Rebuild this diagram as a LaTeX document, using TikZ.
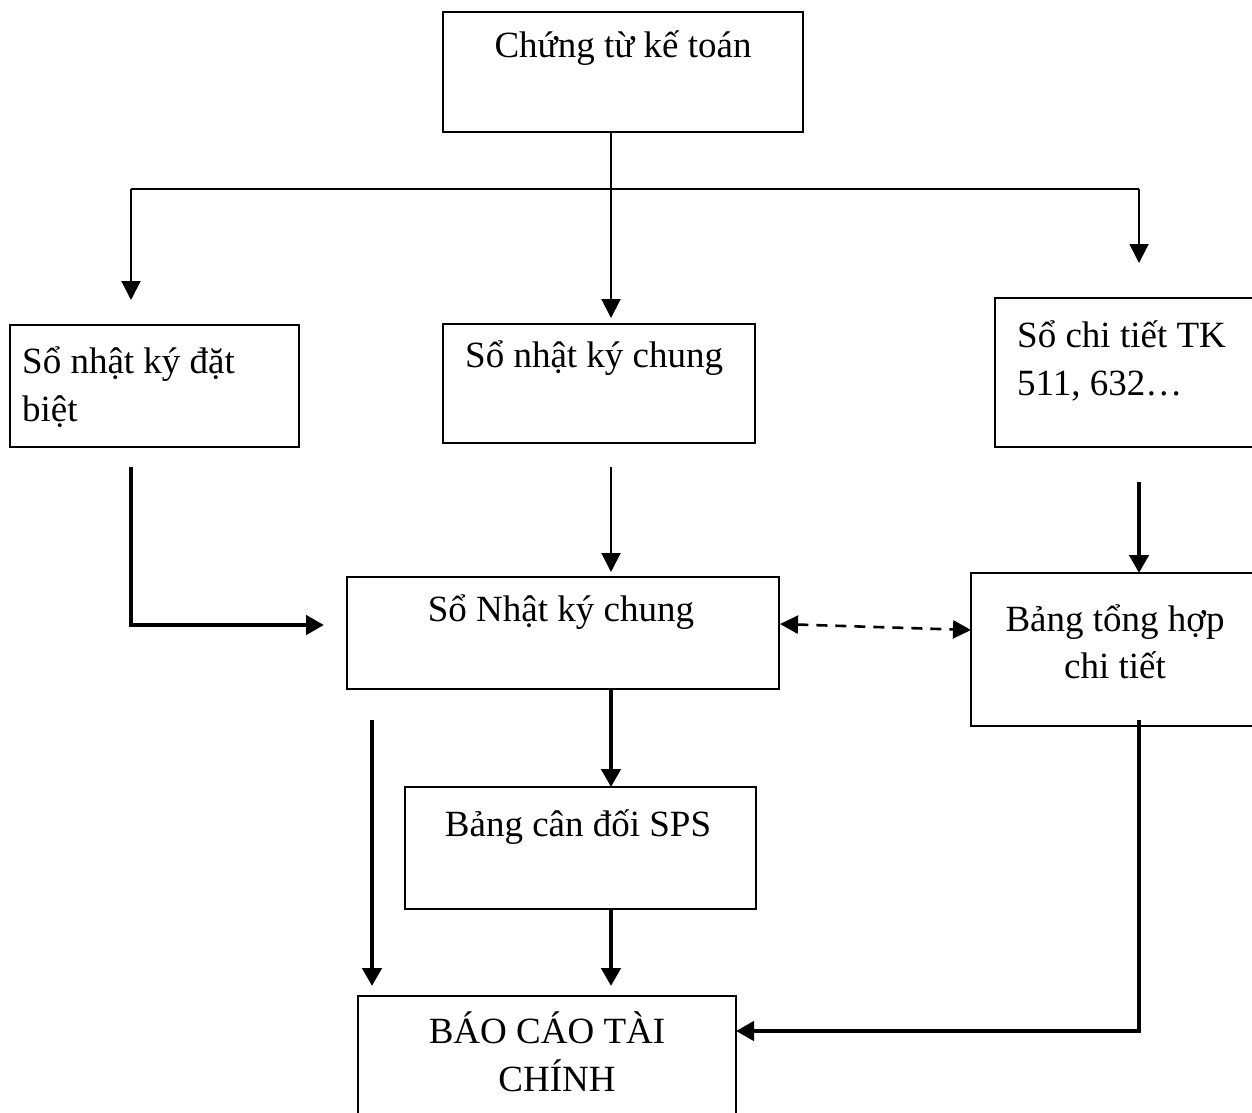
\documentclass[tikz,border=0pt]{standalone}
\usepackage{fontspec}
\setmainfont{Liberation Serif}
\usetikzlibrary{arrows.meta}
\begin{document}
\begin{tikzpicture}[x=1pt,y=-1pt,
  box/.style={draw,line width=1.6pt,inner sep=0pt},
  txt/.style={anchor=base,inner sep=0pt,font=\fontsize{37}{44}\selectfont},
  thin/.style={line width=2pt,-{Triangle[length=19pt,width=19pt]}},
  thick/.style={line width=4.8pt,-{Triangle[length=18pt,width=19pt]}},
  dash2/.style={line width=2.6pt,dash pattern=on 11pt off 8pt,{Triangle[length=18pt,width=18pt]}-{Triangle[length=18pt,width=18pt]}}]
\useasboundingbox (0,0) rectangle (1252,1112);
% boxes
\node[box,minimum width=360pt,minimum height=120pt] (ct) at (623,72) {};
\node[box,minimum width=289pt,minimum height=122pt] (nkdb) at (154.5,386) {};
\node[box,minimum width=312pt,minimum height=119pt] (nkc) at (599,383.5) {};
\node[box,minimum width=266pt,minimum height=149pt] (sct) at (1128,372.5) {};
\node[box,minimum width=432pt,minimum height=112pt] (snkc) at (563,633) {};
\node[box,minimum width=290pt,minimum height=153pt] (bth) at (1116,649.5) {};
\node[box,minimum width=351pt,minimum height=122pt] (bcd) at (580.5,848) {};
\node[box,minimum width=378pt,minimum height=130pt] (bc) at (547,1061) {};
% texts
\node[txt] (t1) at (623,57) {Chứng từ kế toán};
\node[txt,anchor=base west] (t2a) at (22,373) {Sổ nhật ký đặt};
\node[txt,anchor=base west] (t2b) at (22,421) {biệt};
\node[txt,anchor=base west] (t3) at (465,367) {Sổ nhật ký chung};
\node[txt,anchor=base west] (t4a) at (1017,347) {Sổ chi tiết TK};
\node[txt,anchor=base west] (t4b) at (1017,395) {511, 632…};
\node[txt] (t5) at (561,621) {Sổ Nhật ký chung};
\node[txt] (t6a) at (1115,631) {Bảng tổng hợp};
\node[txt] (t6b) at (1115,678) {chi tiết};
\node[txt] (t7) at (578,836) {Bảng cân đối SPS};
\node[txt] (t8a) at (547,1043) {BÁO CÁO TÀI};
\node[txt] (t8b) at (557,1091) {CHÍNH};
% coordinates
\coordinate (top) at (611,132);
\coordinate (j) at (611,189);
\coordinate (k) at (611,318);
\coordinate (l0) at (131,189);
\coordinate (l1) at (131,300);
\coordinate (r0) at (1139,189);
\coordinate (r1) at (1139,263);
\coordinate (a0) at (131,467);
\coordinate (a1) at (131,625);
\coordinate (a2) at (324,625);
\coordinate (b0) at (611,467);
\coordinate (b1) at (611,572);
\coordinate (c0) at (1139,482);
\coordinate (c1) at (1139,573);
\coordinate (g0) at (611,689);
\coordinate (g1) at (611,787);
\coordinate (d0) at (372,720);
\coordinate (d1) at (372,986);
\coordinate (h0) at (611,909);
\coordinate (h1) at (611,986);
\coordinate (e0) at (1139,720);
\coordinate (e1) at (1139,1031);
\coordinate (e2) at (736,1031);
\coordinate (f0) at (780,624);
\coordinate (f1) at (971,630);
% connectors
\draw[thin] (top) -- (k);
\draw[line width=2pt] (l0) -- (r0);
\draw[thin] (l0) -- (l1);
\draw[thin] (r0) -- (r1);
\draw[thick] (a0) -- (a1) -- (a2);
\draw[thin] (b0) -- (b1);
\draw[thick] (c0) -- (c1);
\draw[dash2] (f0) -- (f1);
\draw[thick] (g0) -- (g1);
\draw[thick] (d0) -- (d1);
\draw[thick] (h0) -- (h1);
\draw[thick] (e0) -- (e1) -- (e2);
\end{tikzpicture}
\end{document}
